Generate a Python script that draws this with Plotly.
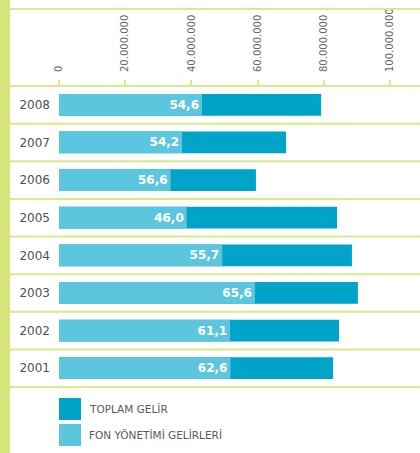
import plotly.graph_objects as go

years = ["2008", "2007", "2006", "2005", "2004", "2003", "2002", "2001"]
toplam_gelir = [79.2e6, 68.6e6, 59.5e6, 84.0e6, 88.5e6, 90.3e6, 84.6e6, 82.8e6]
fon_yonetimi = [43.2e6, 37.2e6, 33.7e6, 38.6e6, 49.3e6, 59.2e6, 51.7e6, 51.8e6]
oran_etiket = ["54,6", "54,2", "56,6", "46,0", "55,7", "65,6", "61,1", "62,6"]
tick_vals = [0, 20e6, 40e6, 60e6, 80e6, 100e6]
tick_text = ["0", "20.000.000", "40.000.000", "60.000.000", "80.000.000", "100.000.000"]
legend_names = ["TOPLAM GELİR", "FON YÖNETİMİ GELİRLERİ"]

DARK = "#00a4c8"
LIGHT = "#5cc6df"
LINE = "#dce88c"
STRIP = "#d8e47c"
FONT = "DejaVu Sans"

W, H = 420, 453
ML, MR, MT, MB = 59, 0, 86, 66
px_per_unit = 331 / 100e6
xmax = (W - ML - MR) / px_per_unit

fig = go.Figure()
fig.add_trace(go.Bar(
    y=years, x=toplam_gelir, orientation="h", marker=dict(color=DARK, line=dict(width=0)),
    width=0.58, name=legend_names[0], showlegend=False, hoverinfo="skip"))
fig.add_trace(go.Bar(
    y=years, x=fon_yonetimi, orientation="h", marker=dict(color=LIGHT, line=dict(width=0)),
    width=0.58, name=legend_names[1], showlegend=False, text=oran_etiket,
    textposition="inside", insidetextanchor="end", constraintext="none",
    textfont=dict(family=FONT, size=12, color="white", weight="bold"), hoverinfo="skip"))

pw = W - ML - MR
ph = H - MT - MB
x0p = (10 - ML) / pw
shapes = []
shapes.append(dict(type="rect", xref="paper", yref="paper", x0=-ML / pw, x1=x0p,
                   y0=-MB / ph, y1=(H - MB) / ph, fillcolor=STRIP, line=dict(width=0), layer="below"))
shapes.append(dict(type="line", xref="paper", yref="paper", x0=x0p, x1=1, y0=1 + (MT - 9) / ph,
                   y1=1 + (MT - 9) / ph, line=dict(color=LINE, width=2)))
for i in range(len(years) + 1):
    yv = i / len(years)
    shapes.append(dict(type="line", xref="paper", yref="paper", x0=x0p, x1=1, y0=yv, y1=yv,
                       line=dict(color=LINE, width=2), layer="below"))

annotations = []
for name, col, cy in zip(legend_names, [DARK, LIGHT], [409, 435]):
    yc = (H - MB - cy) / ph
    half = 11 / ph
    shapes.append(dict(type="rect", xref="paper", yref="paper", x0=0, x1=22 / pw,
                       y0=yc - half, y1=yc + half, fillcolor=col, line=dict(width=0)))
    annotations.append(dict(xref="paper", yref="paper", x=28 / pw, y=yc, text=name,
                            showarrow=False, xanchor="left", yanchor="middle",
                            font=dict(family=FONT, size=10.5, color="#5a5a5a")))

fig.update_layout(
    width=W, height=H, margin=dict(l=ML, r=MR, t=MT, b=MB),
    barmode="overlay", bargap=0.4, plot_bgcolor="white", paper_bgcolor="white",
    separators=",.", shapes=shapes, annotations=annotations,
    xaxis=dict(side="top", range=[0, xmax], tickvals=tick_vals, ticktext=tick_text,
               tickangle=-90, ticks="outside", ticklen=5, tickwidth=2, tickcolor=LINE,
               ticklabelstandoff=6,
               showgrid=False, zeroline=False, showline=False,
               tickfont=dict(family=FONT, size=10, color="#666666"), fixedrange=True),
    yaxis=dict(categoryorder="array", categoryarray=years[::-1], range=[-0.5, 7.5],
               showgrid=False, zeroline=False, showline=False, ticks="",
               ticklabelstandoff=8,
               tickfont=dict(family=FONT, size=12, color="#505050"), fixedrange=True),
)

fig.write_html("out.html", config={"displayModeBar": False},
               post_script="document.body.style.margin='0';")
